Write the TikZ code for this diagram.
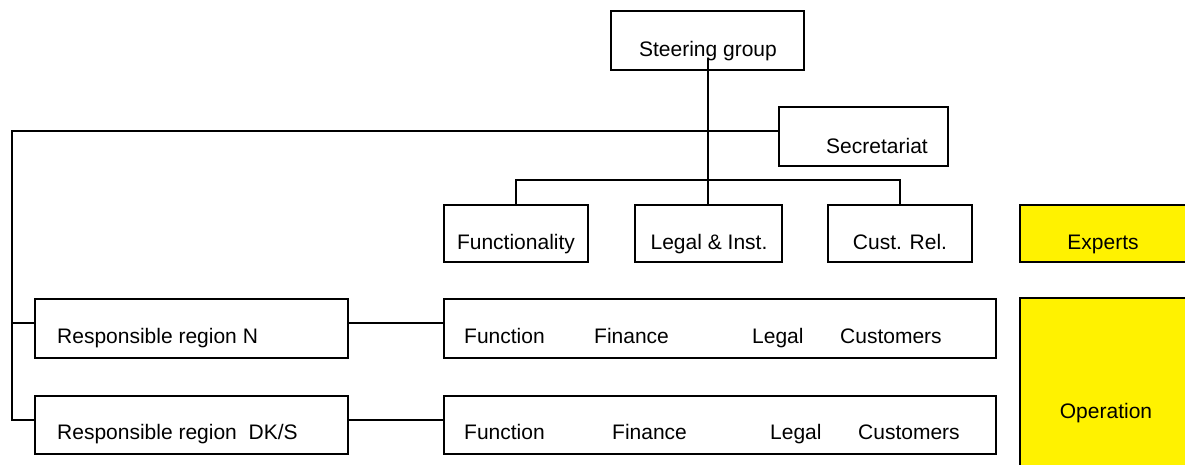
\documentclass[tikz,border=0pt]{standalone}
\usepackage{fontspec}
\setmainfont{Liberation Sans}
\begin{document}
\begin{tikzpicture}[x=1pt,y=-1pt,
  box/.style={draw, line width=1.6pt, rectangle, inner sep=0pt, outer sep=0pt, anchor=north west},
  hilite/.style={box, fill=yellow},
  conn/.style={line width=1.6pt},
  lbl/.style={anchor=base, inner sep=0pt, font=\fontsize{21}{25}\selectfont},
  word/.style={lbl, anchor=base west}]
\clip (0,0) rectangle (1185,464);

% top of the hierarchy
\node[box, minimum width=193pt, minimum height=59pt] (steer) at (611,11) {};
\node[lbl] (steerT) at (708,56) {Steering group};
\node[box, minimum width=169pt, minimum height=59pt] (secr) at (779,107) {};
\node[lbl] (secrT) at (877,153) {Secretariat};

% expert groups
\node[box, minimum width=144pt, minimum height=57pt] (func) at (444,205) {};
\node[lbl] (funcT) at (516,249) {Functionality};
\node[box, minimum width=147pt, minimum height=57pt] (legal) at (635,205) {};
\node[lbl] (legalT) at (709,249) {Legal \& Inst.};
\node[box, minimum width=144pt, minimum height=57pt] (cust) at (828,205) {};
\node[lbl] (custT) at (900,249) {Cust. Rel.};
\node[hilite, minimum width=180pt, minimum height=57pt] (exp) at (1020,205) {};
\node[lbl] (expT) at (1103,249) {Experts};

% regional operation
\node[box, minimum width=313pt, minimum height=59pt] (regn) at (35,299) {};
\node[word] (regnT) at (57,343) {Responsible region N};
\node[box, minimum width=313pt, minimum height=58pt] (dks) at (35,396) {};
\node[word] (dksT) at (57,439) {Responsible region\ \ DK/S};

\node[box, minimum width=552pt, minimum height=59pt] (opn) at (444,299) {};
\node[word] (n1) at (464,343) {Function};
\node[word] (n2) at (594,343) {Finance};
\node[word] (n3) at (752,343) {Legal};
\node[word] (n4) at (840,343) {Customers};
\node[box, minimum width=552pt, minimum height=58pt] (ops) at (444,396) {};
\node[word] (s1) at (464,439) {Function};
\node[word] (s2) at (612,439) {Finance};
\node[word] (s3) at (770,439) {Legal};
\node[word] (s4) at (858,439) {Customers};

\node[hilite, minimum width=180pt, minimum height=180pt] (oper) at (1020,298) {};
\node[lbl] (operT) at (1106,418) {Operation};

% connectors
\coordinate (sgfoot) at (708,58);
\coordinate (bar) at (708,180);
\coordinate (secrW) at (secr.west |- 0,131);
\coordinate (spine) at (12,131);
\coordinate (rowN) at (0,323);
\coordinate (rowS) at (0,420);
\draw[conn] (sgfoot) -- (sgfoot |- legal.north);
\draw[conn] (func.north) |- (bar) -| (cust.north);
\draw[conn] (secrW) -- (spine) |- (dks.west |- rowS);
\draw[conn] (spine |- rowN) -- (regn.west |- rowN);
\draw[conn] (regn.east |- rowN) -- (opn.west |- rowN);
\draw[conn] (dks.east |- rowS) -- (ops.west |- rowS);
\end{tikzpicture}
\end{document}
